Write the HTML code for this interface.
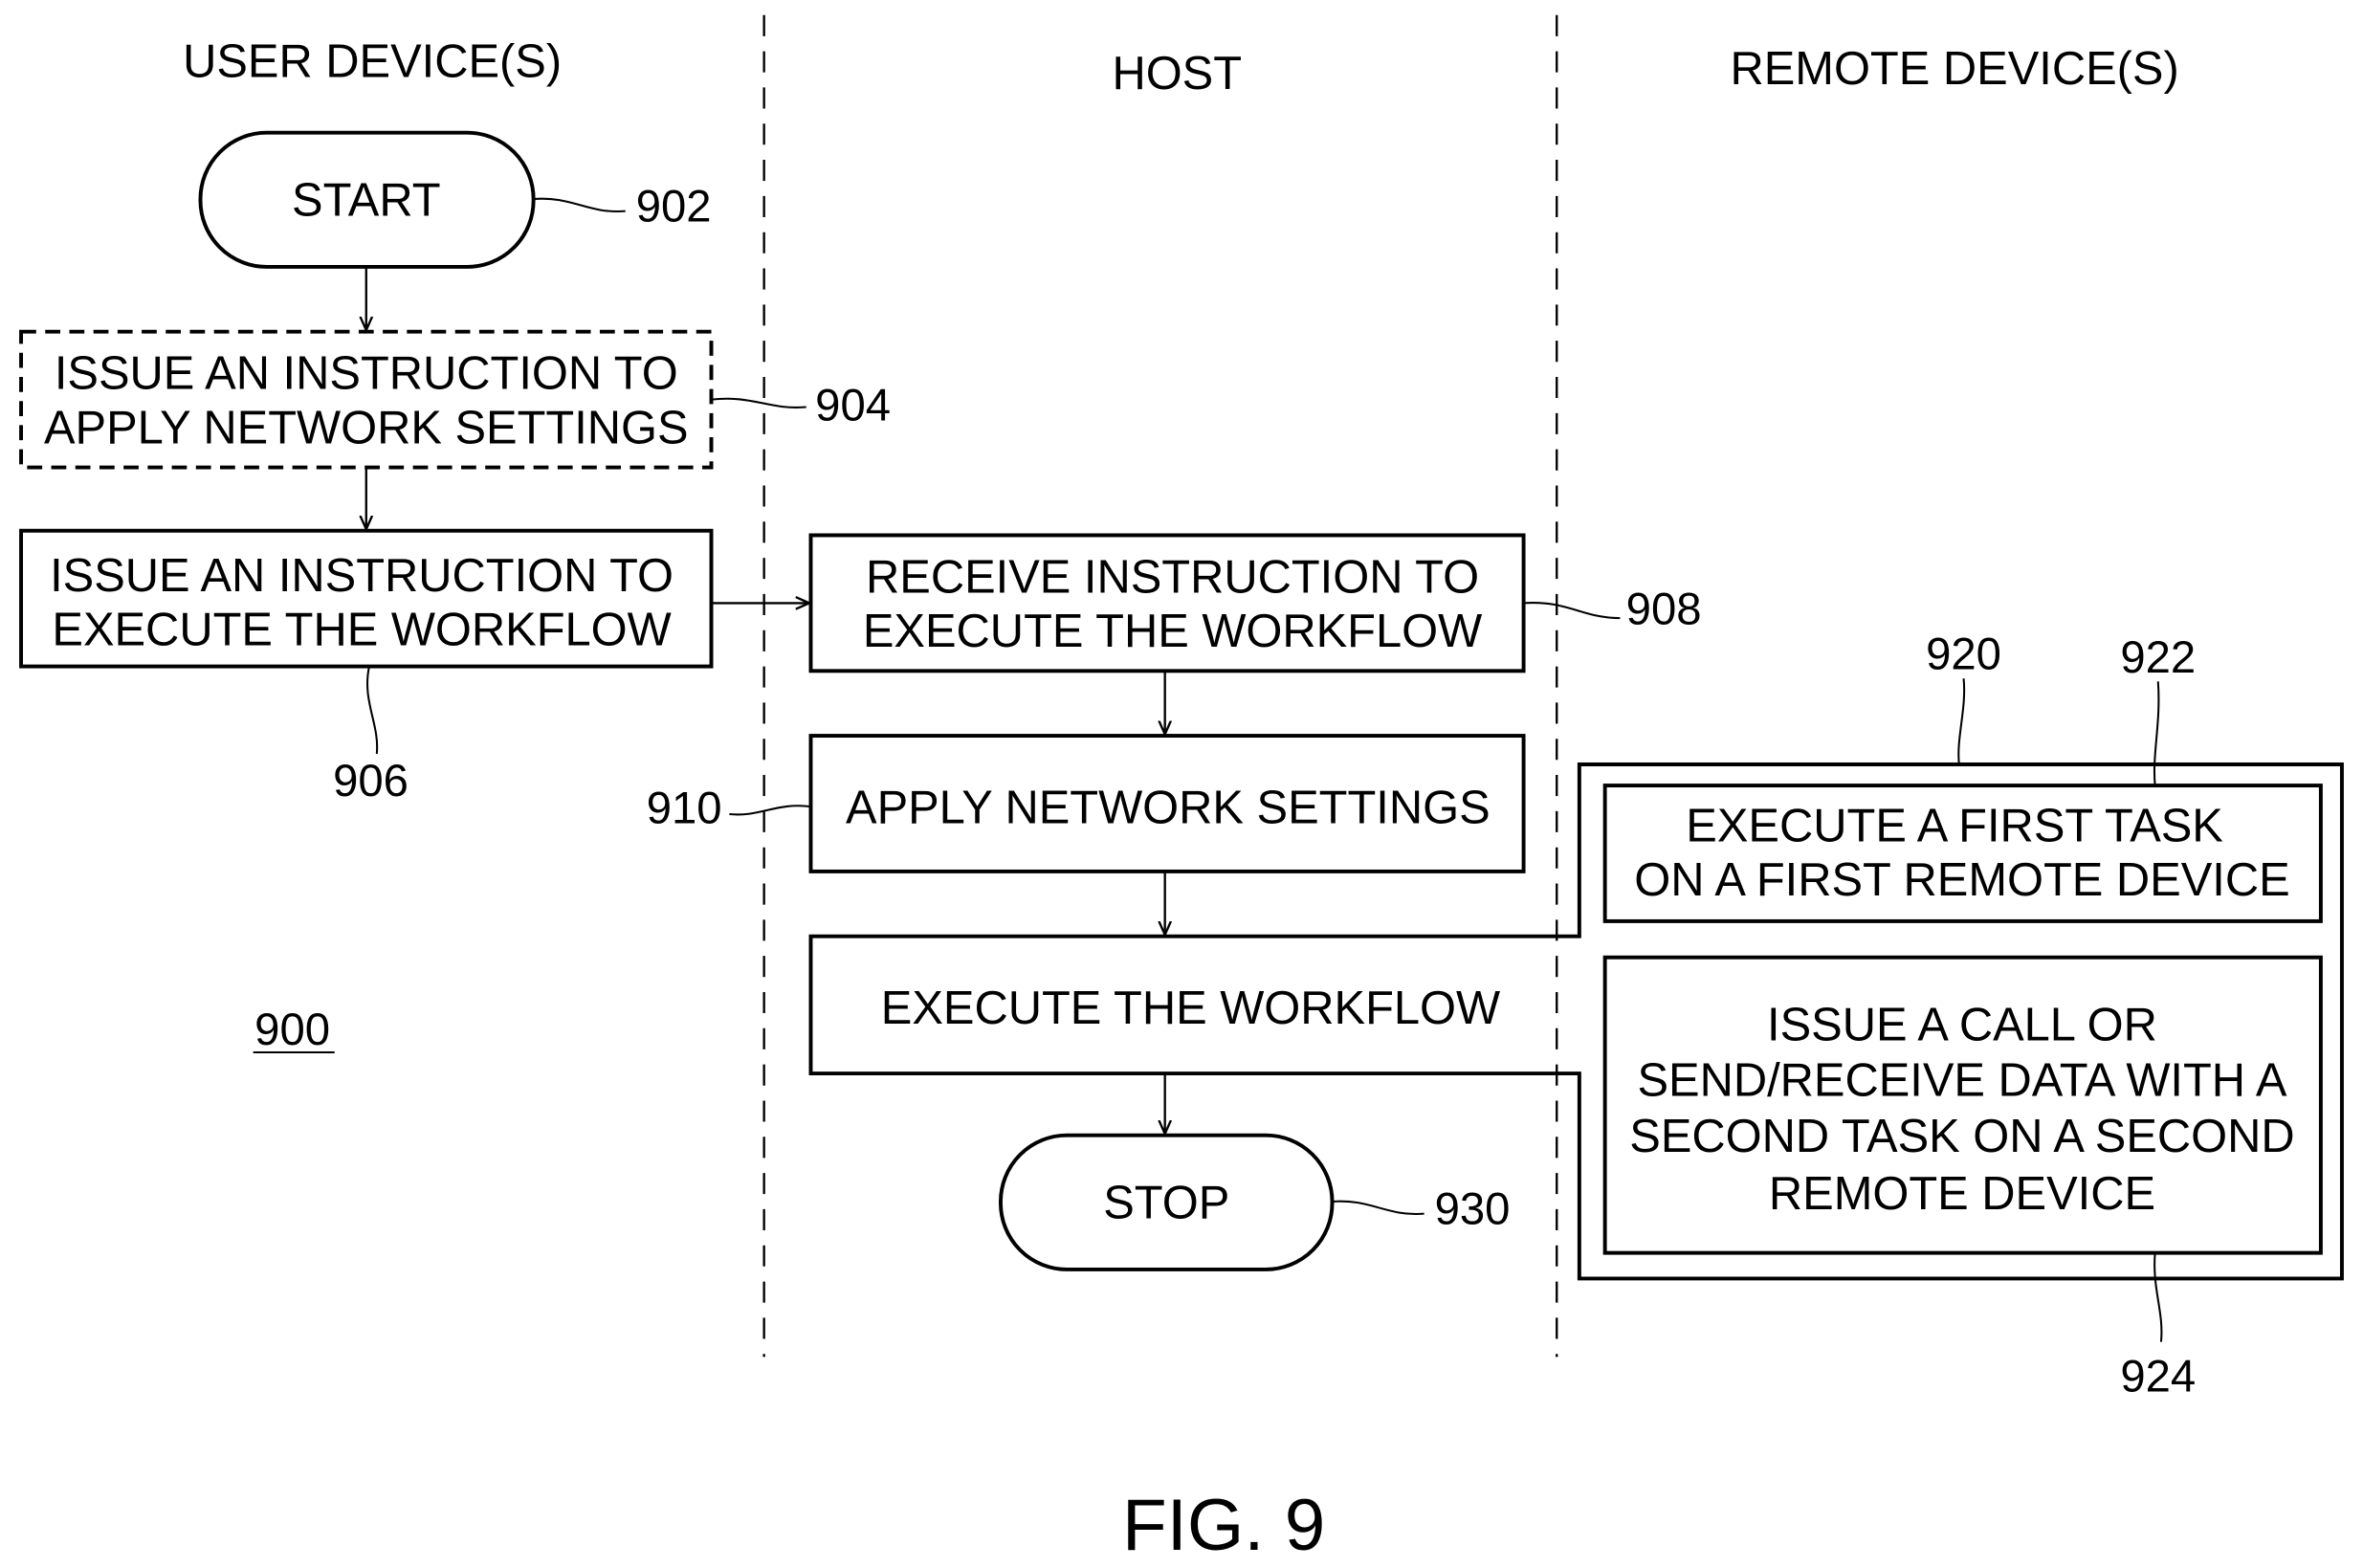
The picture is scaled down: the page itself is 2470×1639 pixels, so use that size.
<!DOCTYPE html>
<html><head><style>html,body{margin:0;padding:0;background:#fff;}svg{display:block}</style></head>
<body>
<svg width="2470" height="1639" viewBox="0 0 1568 1040" preserveAspectRatio="none" xmlns="http://www.w3.org/2000/svg" font-family="Liberation Sans, sans-serif" fill="none" stroke="#000">
<defs><marker id="a" markerWidth="10" markerHeight="10" refX="9" refY="5" orient="auto" markerUnits="userSpaceOnUse"><path d="M0,1 L9,5 L0,9" stroke="#000" stroke-width="1.5" fill="none"/></marker></defs>
<g stroke-width="1.5" stroke-dasharray="14,10">
<line x1="507" y1="10" x2="507" y2="900"/><line x1="1033" y1="10" x2="1033" y2="900"/>
</g>
<g fill="#000" stroke="none" font-size="31" text-anchor="middle">
<text x="247" y="51">USER DEVICE(S)</text>
<text x="781" y="59">HOST</text>
<text x="1297" y="56">REMOTE DEVICE(S)</text>
</g>
<g stroke-width="2.5">
<rect x="133" y="88" width="221" height="89" rx="44"/>
<rect x="14" y="220" width="458" height="90" stroke-dasharray="10,6"/>
<rect x="14" y="352" width="458" height="90"/>
<rect x="538" y="355" width="473" height="90"/>
<rect x="538" y="488" width="473" height="90"/>
<path d="M1048,621 H538 V712 H1048 V848 H1554 V507 H1048 Z"/>
<rect x="1065" y="521" width="475" height="90"/>
<rect x="1065" y="635" width="475" height="196"/>
<rect x="664" y="753" width="220" height="89" rx="44"/>
</g>
<g stroke-width="1.5" marker-end="url(#a)">
<line x1="243" y1="177" x2="243" y2="219"/>
<line x1="243" y1="310" x2="243" y2="351"/>
<line x1="472" y1="400" x2="537" y2="400"/>
<line x1="773" y1="445" x2="773" y2="487"/>
<line x1="773" y1="578" x2="773" y2="620"/>
<line x1="773" y1="712" x2="773" y2="752"/>
</g>
<g stroke-width="1.3">
<path d="M354,132 C380,130 390,142 415,140"/>
<path d="M472,265 C500,262 510,272 535,270"/>
<path d="M245,442 C240,465 252,480 250,500"/>
<path d="M1011,400 C1040,398 1050,410 1075,410"/>
<path d="M484,540 C505,542 515,532 538,535"/>
<path d="M884,797 C910,795 920,807 945,805"/>
<path d="M1303,450 C1305,470 1298,490 1300,507"/>
<path d="M1432,452 C1434,480 1428,500 1430,521"/>
<path d="M1430,831 C1428,855 1436,870 1434,890"/>
<line x1="168" y1="698" x2="222" y2="698"/>
</g>
<g fill="#000" stroke="none" font-size="31" text-anchor="middle">
<text x="243" y="143">START</text>
<text x="243" y="258">ISSUE AN INSTRUCTION TO</text>
<text x="243" y="294">APPLY NETWORK SETTINGS</text>
<text x="240" y="392">ISSUE AN INSTRUCTION TO</text>
<text x="240" y="428">EXECUTE THE WORKFLOW</text>
<text x="778" y="393">RECEIVE INSTRUCTION TO</text>
<text x="778" y="429">EXECUTE THE WORKFLOW</text>
<text x="775" y="546">APPLY NETWORK SETTINGS</text>
<text x="790" y="679">EXECUTE THE WORKFLOW</text>
<text x="1297" y="558">EXECUTE A FIRST TASK</text>
<text x="1302" y="594">ON A FIRST REMOTE DEVICE</text>
<text x="1302" y="690">ISSUE A CALL OR</text>
<text x="1302" y="727">SEND/RECEIVE DATA WITH A</text>
<text x="1302" y="764">SECOND TASK ON A SECOND</text>
<text x="1302" y="802">REMOTE DEVICE</text>
<text x="774" y="808">STOP</text>
</g>
<g fill="#000" stroke="none" font-size="30" text-anchor="middle">
<text x="447" y="147">902</text>
<text x="566" y="279">904</text>
<text x="246" y="528">906</text>
<text x="1104" y="414">908</text>
<text x="454" y="546">910</text>
<text x="1303" y="444">920</text>
<text x="1432" y="446">922</text>
<text x="1432" y="923">924</text>
<text x="977" y="812">930</text>
<text x="194" y="693">900</text>
<text x="812" y="1028" font-size="48.5">FIG. 9</text>
</g>
</svg>
</body></html>
